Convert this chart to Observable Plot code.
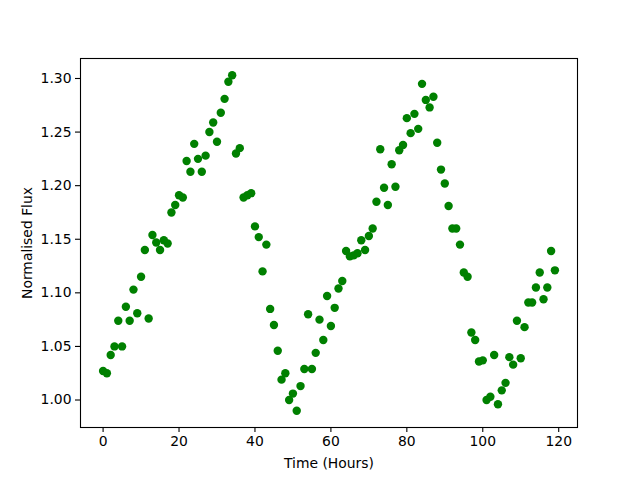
<!DOCTYPE html>
<html>
<head>
<meta charset="utf-8">
<script src="https://cdn.jsdelivr.net/npm/d3@7"></script>
<script src="https://cdn.jsdelivr.net/npm/@observablehq/plot@0.6"></script>
<style>
  html, body { margin: 0; padding: 0; background: #fff; }
  #chart svg { display: block; }
</style>
</head>
<body>
<div id="chart"></div>
<script>
// Normalised flux, one reading per hour (hour = index)
const flux = [
  1.027, 1.025, 1.042, 1.050, 1.074, 1.050, 1.087, 1.074, 1.103, 1.081,
  1.115, 1.140, 1.076, 1.154, 1.147, 1.140, 1.149, 1.146, 1.175, 1.182,
  1.191, 1.189, 1.223, 1.213, 1.239, 1.225, 1.213, 1.228, 1.250, 1.259,
  1.241, 1.268, 1.281, 1.297, 1.303, 1.230, 1.235, 1.189, 1.191, 1.193,
  1.162, 1.152, 1.120, 1.145, 1.085, 1.070, 1.046, 1.019, 1.025, 1.000,
  1.006, 0.990, 1.013, 1.029, 1.080, 1.029, 1.044, 1.075, 1.056, 1.097,
  1.069, 1.086, 1.104, 1.111, 1.139, 1.134, 1.135, 1.137, 1.149, 1.140,
  1.153, 1.160, 1.185, 1.234, 1.198, 1.182, 1.220, 1.199, 1.233, 1.238,
  1.263, 1.249, 1.267, 1.253, 1.295, 1.280, 1.273, 1.283, 1.240, 1.215,
  1.202, 1.181, 1.160, 1.160, 1.145, 1.119, 1.115, 1.063, 1.056, 1.036,
  1.037, 1.000, 1.003, 1.042, 0.996, 1.009, 1.016, 1.040, 1.033, 1.074,
  1.039, 1.068, 1.091, 1.091, 1.105, 1.119, 1.094, 1.105, 1.139, 1.121
];
const xTicks = [0, 20, 40, 60, 80, 100, 120];
const yTicks = [1.00, 1.05, 1.10, 1.15, 1.20, 1.25, 1.30];
const xLabel = "Time (Hours)";
const yLabel = "Normalised Flux";

const data = flux.map((f, i) => ({hour: i, flux: f}));

const xPad = (d3.max(data, d => d.hour) - d3.min(data, d => d.hour)) * 0.05;
const yExt = d3.extent(flux);
const yPad = (yExt[1] - yExt[0]) * 0.05;

const font = "DejaVu Sans, sans-serif";

const chart = Plot.plot({
  width: 640,
  height: 480,
  marginLeft: 80,
  marginRight: 63,
  marginTop: 58,
  marginBottom: 53,
  style: {fontFamily: font, fontSize: "13.9px", color: "black", background: "white"},
  x: {domain: [d3.min(data, d => d.hour) - xPad, d3.max(data, d => d.hour) + xPad]},
  y: {domain: [yExt[0] - yPad, yExt[1] + yPad]},
  marks: [
    Plot.dot(data, {x: "hour", y: "flux", r: 4.2, fill: "#008000", stroke: "none"}),
    Plot.frame({stroke: "black", strokeWidth: 1.1}),
    Plot.axisX({ticks: xTicks, tickSize: 5, tickPadding: 4, strokeWidth: 1.1,
      label: xLabel, labelAnchor: "center", labelArrow: "none", labelOffset: 40,
      fontSize: 13.9}),
    Plot.axisY({ticks: yTicks, tickFormat: d3.format(".2f"), tickSize: 5, tickPadding: 4,
      strokeWidth: 1.1, label: yLabel, labelAnchor: "center", labelArrow: "none",
      labelOffset: 58, fontSize: 13.9})
  ]
});
document.getElementById("chart").appendChild(chart);
</script>
</body>
</html>
